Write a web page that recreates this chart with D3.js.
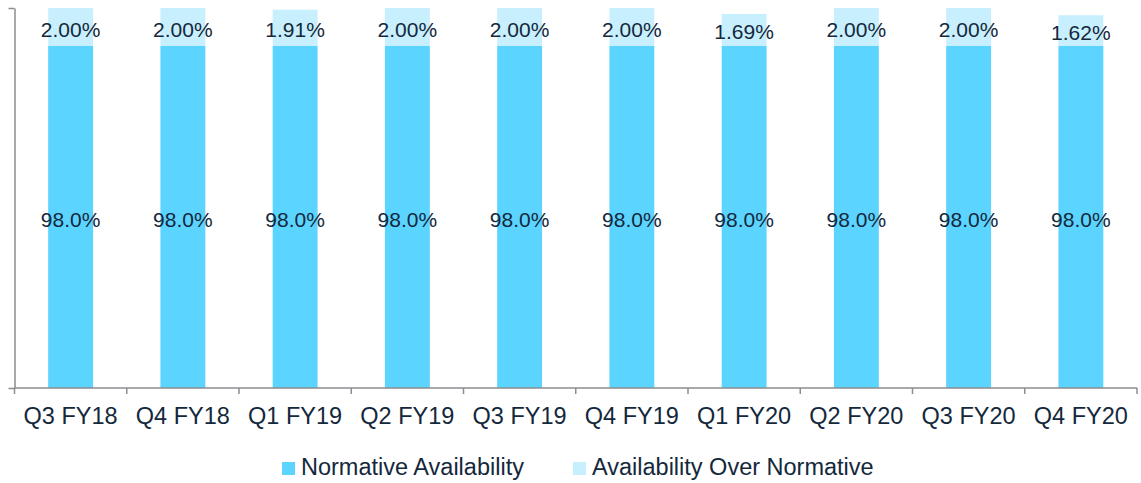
<!DOCTYPE html>
<html>
<head>
<meta charset="utf-8">
<script src="https://cdn.jsdelivr.net/npm/d3@7/dist/d3.min.js"></script>
<style>
  html, body { margin: 0; padding: 0; background: #ffffff; }
  svg { display: block; font-family: "Liberation Sans", Arial, sans-serif; }
</style>
</head>
<body>
<svg id="chart" width="1141" height="483"></svg>
<script>
// Quarterly availability (%), stacked: normative base plus the share achieved above it
const categories = ["Q3 FY18", "Q4 FY18", "Q1 FY19", "Q2 FY19", "Q3 FY19",
                    "Q4 FY19", "Q1 FY20", "Q2 FY20", "Q3 FY20", "Q4 FY20"];
const normative = [98.0, 98.0, 98.0, 98.0, 98.0, 98.0, 98.0, 98.0, 98.0, 98.0];
const overNormative = [2.00, 2.00, 1.91, 2.00, 2.00, 2.00, 1.69, 2.00, 2.00, 1.62];
const seriesNames = ["Normative Availability", "Availability Over Normative"];
const yDomain = [80, 100];

const colors = ["#5bd4ff", "#c8effd"];
const textColor = "#14283c";
const axisColor = "#8a8d90";

const svg = d3.select("#chart");
const plotLeft = 14.5, plotRight = 1137, plotTop = 8, plotBottom = 388;

const rows = categories.map((c, i) => ({ cat: c, normative: normative[i], over: overNormative[i] }));
const stack = d3.stack().keys(["normative", "over"]);
const layers = stack(rows);

const x = d3.scaleBand().domain(categories).range([plotLeft, plotRight]).padding(0);
const y = d3.scaleLinear().domain(yDomain).range([plotBottom, plotTop]);
const barW = x.bandwidth() * 0.4;

// stacked bars
const g = svg.append("g");
layers.forEach((layer, li) => {
  g.selectAll(null).data(layer).enter().append("rect")
    .attr("x", d => x(d.data.cat) + (x.bandwidth() - barW) / 2)
    .attr("width", barW)
    .attr("y", d => y(Math.min(d[1], yDomain[1])))
    .attr("height", d => y(Math.max(d[0], yDomain[0])) - y(Math.min(d[1], yDomain[1])))
    .attr("fill", colors[li]);
});

// value labels centred in each segment
const fmts = [v => v.toFixed(1) + "%", v => v.toFixed(2) + "%"];
layers.forEach((layer, li) => {
  g.selectAll(null).data(layer).enter().append("text")
    .attr("x", d => x(d.data.cat) + x.bandwidth() / 2)
    .attr("y", d => (y(Math.max(d[0], yDomain[0])) + y(Math.min(d[1], yDomain[1]))) / 2 + 2)
    .attr("text-anchor", "middle")
    .attr("dominant-baseline", "central")
    .attr("font-size", "21px")
    .attr("fill", textColor)
    .text(d => fmts[li](d[1] - d[0]));
});

// y axis: line with end ticks only
const yAxis = svg.append("g")
  .attr("transform", `translate(${plotLeft},0)`)
  .call(d3.axisLeft(y).tickValues(yDomain).tickFormat("").tickSize(6).tickSizeOuter(0));
yAxis.selectAll("path, line").attr("stroke", axisColor).attr("stroke-width", 1.5);

// x axis: baseline with ticks at category boundaries
const xAxisG = svg.append("g").attr("transform", `translate(0,${plotBottom})`);
xAxisG.append("line")
  .attr("x1", plotLeft).attr("x2", plotRight).attr("y1", 0).attr("y2", 0)
  .attr("stroke", axisColor).attr("stroke-width", 1.5);
const bounds = categories.map(c => x(c)).concat([x(categories[categories.length - 1]) + x.bandwidth()]);
xAxisG.selectAll(null).data(bounds).enter().append("line")
  .attr("x1", d => d).attr("x2", d => d).attr("y1", 0).attr("y2", 6)
  .attr("stroke", axisColor).attr("stroke-width", 1.5);
xAxisG.selectAll(null).data(categories).enter().append("text")
  .attr("x", d => x(d) + x.bandwidth() / 2)
  .attr("y", 36)
  .attr("text-anchor", "middle")
  .attr("font-size", "23.5px")
  .attr("fill", textColor)
  .text(d => d);

// legend
const legend = svg.append("g");
const legendX = [282, 573];
seriesNames.forEach((name, i) => {
  legend.append("rect")
    .attr("x", legendX[i]).attr("y", 462).attr("width", 13).attr("height", 13)
    .attr("fill", colors[i]);
  legend.append("text")
    .attr("x", legendX[i] + 19).attr("y", 475)
    .attr("font-size", "23.5px")
    .attr("fill", textColor)
    .text(name);
});
</script>
</body>
</html>
